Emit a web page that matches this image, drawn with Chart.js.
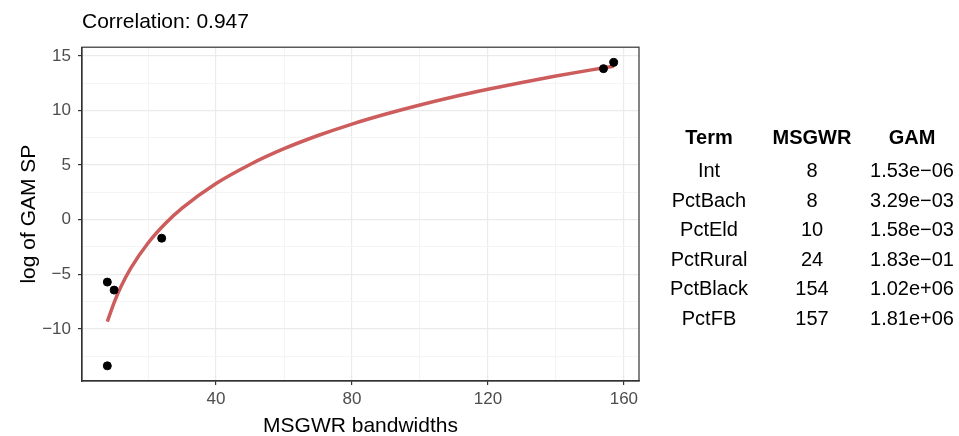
<!DOCTYPE html>
<html>
<head>
<meta charset="utf-8">
<script src="https://cdn.jsdelivr.net/npm/chart.js@4/dist/chart.umd.min.js"></script>
<style>
  html, body { margin: 0; padding: 0; background: #ffffff; }
  #wrap { position: relative; width: 959px; height: 436px; }
  #chart { position: absolute; left: 0; top: 0; }
  .cell { position: absolute; font-family: "Liberation Sans", Arial, sans-serif; font-size: 20px;
          color: #000; transform: translate(-50%, -50%); white-space: nowrap; }
  .hdr { font-weight: bold; }
</style>
</head>
<body>
<div id="wrap">
  <canvas id="chart" width="959" height="436"></canvas>
  <div id="table"></div>
</div>
<script>
// Terms with their MSGWR bandwidths and GAM smoothing parameters
const terms = ["Int", "PctBach", "PctEld", "PctRural", "PctBlack", "PctFB"];
const bandwidths = [8, 8, 10, 24, 154, 157];
const gamSP = [1.53e-06, 3.29e-03, 1.58e-03, 1.83e-01, 1.02e+06, 1.81e+06];
const gamLabels = ["1.53e\u221206", "3.29e\u221203", "1.58e\u221203", "1.83e\u221201", "1.02e+06", "1.81e+06"];

// Fitted log curve of log(GAM SP) against bandwidth
const fitX = [8, 10, 12, 15, 20, 25, 30, 40, 50, 60, 70, 80, 90, 100, 110, 120, 130, 140, 150, 157];
const fitY = [-9.34, -7.59, -6.15, -4.40, -2.14, -0.38, 1.05, 3.31, 5.06, 6.50, 7.71, 8.76, 9.68, 10.51, 11.26, 11.94, 12.57, 13.16, 13.70, 14.06];

const correlation = "0.947";

// Axis breaks: majors are labelled, minors only draw a light grid line
const xTicks = [20, 40, 60, 80, 100, 120, 140, 160];
const xMajor = [40, 80, 120, 160];
const yTicks = [-12.5, -10, -7.5, -5, -2.5, 0, 2.5, 5, 7.5, 10, 12.5, 15];
const yMajor = [-10, -5, 0, 5, 10, 15];

const FONT = "'Liberation Sans', Arial, sans-serif";
const fmt = v => (v < 0 ? "\u2212" + Math.abs(v) : String(v));

const points = bandwidths.map((b, i) => ({ x: b, y: Math.log(gamSP[i]) }));
const curve = fitX.map((x, i) => ({ x: x, y: fitY[i] }));

const gridColor = (majors) => (ctx) => majors.includes(ctx.tick && ctx.tick.value) ? '#ebebeb' : '#f4f4f4';
const gridWidth = (majors) => (ctx) => majors.includes(ctx.tick && ctx.tick.value) ? 1.2 : 1;
const tickColor = (majors) => (ctx) => majors.includes(ctx.tick && ctx.tick.value) ? '#333333' : 'rgba(0,0,0,0)';

new Chart(document.getElementById('chart'), {
  type: 'scatter',
  data: {
    datasets: [
      {
        type: 'line',
        data: curve,
        borderColor: '#cd5c5c',
        borderWidth: 3.5,
        pointRadius: 0,
        fill: false,
        cubicInterpolationMode: 'monotone',
        order: 2
      },
      {
        data: points,
        backgroundColor: '#000000',
        borderColor: '#000000',
        pointRadius: 4,
        pointHoverRadius: 4,
        order: 1
      }
    ]
  },
  options: {
    responsive: false,
    animation: false,
    events: [],
    layout: { padding: { top: 8, right: 320, bottom: 0, left: 17 } },
    plugins: {
      legend: { display: false },
      tooltip: { enabled: false },
      title: {
        display: true,
        text: 'Correlation: ' + correlation,
        align: 'start',
        fullSize: false,
        color: '#000000',
        font: { family: FONT, size: 21, weight: 'normal' },
        padding: { top: 2, bottom: 12 }
      }
    },
    scales: {
      x: {
        type: 'linear',
        min: 0.55,
        max: 164.45,
        afterBuildTicks: (s) => { s.ticks = xTicks.map(v => ({ value: v })); },
        afterFit: (s) => { s.height = 55; },
        border: { display: true, color: '#333333', width: 1.2 },
        grid: {
          color: gridColor(xMajor),
          lineWidth: gridWidth(xMajor),
          drawTicks: true,
          tickLength: 4,
          tickColor: tickColor(xMajor),
          tickWidth: 1.2
        },
        ticks: {
          autoSkip: false,
          maxRotation: 0,
          padding: 4,
          color: '#4d4d4d',
          font: { family: FONT, size: 17 },
          callback: (v) => xMajor.includes(v) ? fmt(v) : ''
        },
        title: {
          display: true,
          text: 'MSGWR bandwidths',
          color: '#000000',
          font: { family: FONT, size: 21 },
          padding: { top: 5, bottom: -3 }
        }
      },
      y: {
        type: 'linear',
        min: -14.78,
        max: 15.80,
        afterBuildTicks: (s) => { s.ticks = yTicks.map(v => ({ value: v })); },
        afterFit: (s) => { s.width = 65; },
        border: { display: true, color: '#333333', width: 1.2 },
        grid: {
          color: gridColor(yMajor),
          lineWidth: gridWidth(yMajor),
          drawTicks: true,
          tickLength: 4,
          tickColor: tickColor(yMajor),
          tickWidth: 1.2
        },
        ticks: {
          autoSkip: false,
          padding: 7,
          color: '#4d4d4d',
          font: { family: FONT, size: 17 },
          callback: (v) => yMajor.includes(v) ? fmt(v) : ''
        },
        title: {
          display: true,
          text: 'log of GAM SP',
          color: '#000000',
          font: { family: FONT, size: 21 },
          padding: { top: 0, bottom: 4 }
        }
      }
    }
  },
  plugins: [{
    // right and top edges of the panel border
    id: 'panelBorder',
    afterDatasetsDraw(chart) {
      const { ctx, chartArea: a } = chart;
      ctx.save();
      ctx.strokeStyle = '#333333';
      ctx.lineWidth = 1.2;
      ctx.strokeRect(a.left, a.top, a.right - a.left, a.bottom - a.top);
      ctx.restore();
    }
  }]
});

// Summary table beside the panel
const table = document.getElementById('table');
const colX = [709, 812, 912];
const headY = 137, rowY0 = 170, rowStep = 29.6;
function cell(text, x, y, cls) {
  const d = document.createElement('div');
  d.className = 'cell' + (cls ? ' ' + cls : '');
  d.textContent = text;
  d.style.left = x + 'px';
  d.style.top = y + 'px';
  table.appendChild(d);
}
["Term", "MSGWR", "GAM"].forEach((h, j) => cell(h, colX[j], headY, 'hdr'));
terms.forEach((t, i) => {
  const y = rowY0 + i * rowStep;
  cell(t, colX[0], y);
  cell(String(bandwidths[i]), colX[1], y);
  cell(gamLabels[i], colX[2], y);
});
</script>
</body>
</html>
